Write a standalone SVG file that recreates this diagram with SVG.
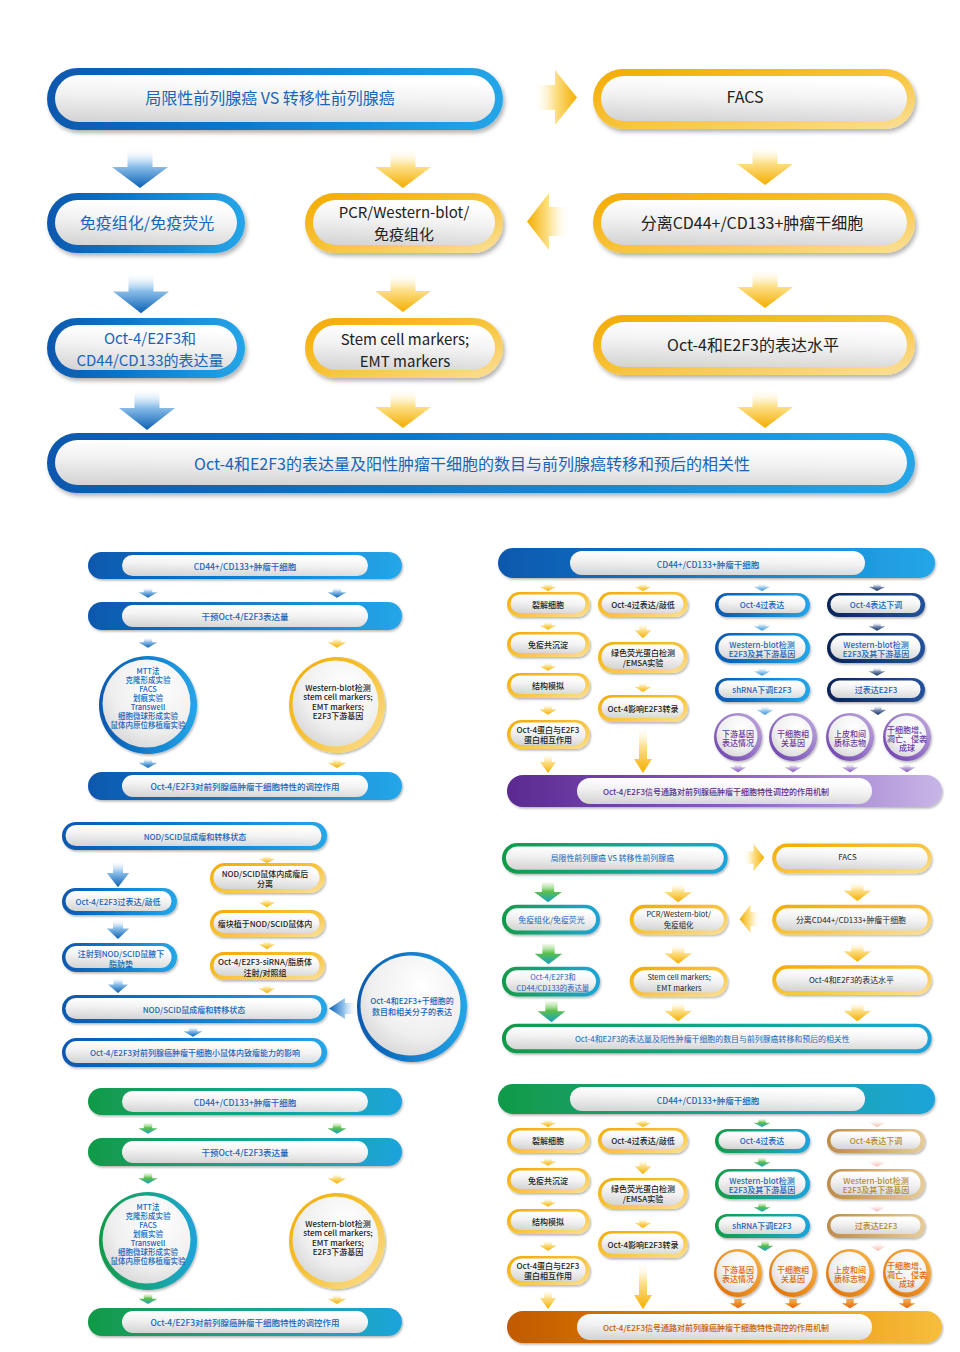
<svg xmlns="http://www.w3.org/2000/svg" width="960" height="1352" viewBox="0 0 960 1352">
<style>
text{font-family:"Noto Sans CJK SC","Noto Sans",sans-serif;text-anchor:middle;dominant-baseline:central}
.f16{font-size:16px}.f15{font-size:15px}.f85{font-size:8.5px;font-weight:500}.f8{font-size:8px;font-weight:500}.f75{font-size:7.5px;font-weight:500}
.tb{fill:#1766bb}.td{fill:#222}.tp{fill:#6b3aa0}.tq{fill:#5a2d88}.to{fill:#e06a08}.tn{fill:#b58a2c}.tr{fill:#c65f00}
.in{fill:url(#gIn)}.inc{fill:url(#gInC)}
.rb{fill:url(#gBlue)}.ry{fill:url(#gYel)}.rg{fill:url(#gGreen)}.rn{fill:url(#gNavy)}.rp{fill:url(#gPur)}.rq{fill:url(#gPurBar)}.ro{fill:url(#gOr)}.rr{fill:url(#gOrBar)}.rt{fill:url(#gTan)}
.sh{filter:url(#sh)}.s2{filter:url(#sh2)}
</style>
<defs>
<filter id="sh" x="-10%" y="-20%" width="120%" height="160%"><feDropShadow dx="2" dy="3" stdDeviation="2" flood-color="#000" flood-opacity="0.3"/></filter>
<filter id="sh2" x="-10%" y="-20%" width="120%" height="160%"><feDropShadow dx="1" dy="1.5" stdDeviation="1" flood-color="#000" flood-opacity="0.3"/></filter>
<linearGradient id="gBlue" x1="0" y1="0" x2="1" y2="0"><stop offset="0" stop-color="#0a58ae"/><stop offset="0.55" stop-color="#1382d0"/><stop offset="1" stop-color="#25a6e8"/></linearGradient>
<linearGradient id="gYel" x1="0" y1="0" x2="1" y2="1"><stop offset="0" stop-color="#f3aa00"/><stop offset="0.5" stop-color="#f7c33a"/><stop offset="1" stop-color="#fbe09a"/></linearGradient>
<linearGradient id="gGreen" x1="0" y1="0" x2="1" y2="0"><stop offset="0" stop-color="#119a48"/><stop offset="0.5" stop-color="#17a58a"/><stop offset="1" stop-color="#1ea4dc"/></linearGradient>
<linearGradient id="gNavy" x1="0" y1="0" x2="1" y2="0"><stop offset="0" stop-color="#0a2458"/><stop offset="1" stop-color="#24529a"/></linearGradient>
<linearGradient id="gPur" x1="0" y1="1" x2="1" y2="0"><stop offset="0" stop-color="#6a3aac"/><stop offset="1" stop-color="#c2aee0"/></linearGradient>
<linearGradient id="gPurBar" x1="0" y1="0" x2="1" y2="0"><stop offset="0" stop-color="#5a2a90"/><stop offset="0.5" stop-color="#8a5cc4"/><stop offset="1" stop-color="#c8b6e6"/></linearGradient>
<linearGradient id="gOr" x1="0" y1="1" x2="1" y2="0"><stop offset="0" stop-color="#e06c00"/><stop offset="1" stop-color="#f7b84a"/></linearGradient>
<linearGradient id="gOrBar" x1="0" y1="0" x2="1" y2="0"><stop offset="0" stop-color="#c05a00"/><stop offset="0.5" stop-color="#e98a00"/><stop offset="1" stop-color="#f6be3c"/></linearGradient>
<linearGradient id="gTan" x1="0" y1="0" x2="1" y2="0"><stop offset="0" stop-color="#bd8c4a"/><stop offset="1" stop-color="#e6cc9a"/></linearGradient>
<linearGradient id="gIn" x1="0" y1="1" x2="0.2" y2="0"><stop offset="0" stop-color="#d2d2d2"/><stop offset="0.6" stop-color="#f2f2f2"/><stop offset="1" stop-color="#ffffff"/></linearGradient>
<radialGradient id="gInC" cx="0.62" cy="0.3" r="0.85"><stop offset="0" stop-color="#ffffff"/><stop offset="0.6" stop-color="#efefef"/><stop offset="1" stop-color="#cfcfcf"/></radialGradient>
<linearGradient id="aBlue" x1="0" y1="0" x2="0" y2="1"><stop offset="0" stop-color="#ffffff" stop-opacity="0"/><stop offset="0.45" stop-color="#8ec0ea"/><stop offset="1" stop-color="#0a60b5"/></linearGradient>
<linearGradient id="aYel" x1="0" y1="0" x2="0" y2="1"><stop offset="0" stop-color="#ffffff" stop-opacity="0"/><stop offset="0.45" stop-color="#fde08a"/><stop offset="1" stop-color="#f4ae00"/></linearGradient>
<linearGradient id="aGreen" x1="0" y1="0" x2="0" y2="1"><stop offset="0" stop-color="#c8eab0" stop-opacity="0.3"/><stop offset="0.45" stop-color="#5cc04a"/><stop offset="1" stop-color="#17a0c4"/></linearGradient>
<linearGradient id="aLBlue" x1="0" y1="0" x2="0" y2="1"><stop offset="0" stop-color="#ffffff" stop-opacity="0"/><stop offset="0.5" stop-color="#a8d2f0"/><stop offset="1" stop-color="#3a92d8"/></linearGradient>
<linearGradient id="aNavy" x1="0" y1="0" x2="0" y2="1"><stop offset="0" stop-color="#ffffff" stop-opacity="0"/><stop offset="0.5" stop-color="#7c8fb5"/><stop offset="1" stop-color="#142f60"/></linearGradient>
<linearGradient id="aPur" x1="0" y1="0" x2="0" y2="1"><stop offset="0" stop-color="#ffffff" stop-opacity="0"/><stop offset="0.5" stop-color="#c4b0e0"/><stop offset="1" stop-color="#8056b8"/></linearGradient>
<linearGradient id="aPink" x1="0" y1="0" x2="0" y2="1"><stop offset="0" stop-color="#ffffff" stop-opacity="0"/><stop offset="1" stop-color="#f3b3a0"/></linearGradient>
<linearGradient id="aOr" x1="0" y1="0" x2="0" y2="1"><stop offset="0" stop-color="#f6b25a"/><stop offset="1" stop-color="#e06800"/></linearGradient>
<linearGradient id="aYelR" x1="0" y1="0" x2="1" y2="0"><stop offset="0" stop-color="#ffffff" stop-opacity="0"/><stop offset="0.5" stop-color="#fde08a"/><stop offset="1" stop-color="#f4ae00"/></linearGradient>
<linearGradient id="aYelL" x1="1" y1="0" x2="0" y2="0"><stop offset="0" stop-color="#ffffff" stop-opacity="0"/><stop offset="0.5" stop-color="#fde08a"/><stop offset="1" stop-color="#f4ae00"/></linearGradient>
<linearGradient id="aBlueL" x1="1" y1="0" x2="0" y2="0"><stop offset="0" stop-color="#ffffff" stop-opacity="0"/><stop offset="0.5" stop-color="#8ec0ea"/><stop offset="1" stop-color="#0a60b5"/></linearGradient>
<path id="arrD" d="M-12.5,0H12.5V19H28L0,40L-28,19H-12.5Z"/>
</defs>
<rect width="960" height="1352" fill="#ffffff"/>

<!-- ===== TOP SECTION ===== -->
<g id="top-section">
<g id="connectors-top">
<use href="#arrD" transform="translate(140,148)" fill="url(#aBlue)"/>
<use href="#arrD" transform="translate(141,272) scale(1,1.03)" fill="url(#aBlue)"/>
<use href="#arrD" transform="translate(147,388) scale(1,1.05)" fill="url(#aBlue)"/>
<use href="#arrD" transform="translate(403,148)" fill="url(#aYel)"/>
<use href="#arrD" transform="translate(403,272)" fill="url(#aYel)"/>
<use href="#arrD" transform="translate(403,388)" fill="url(#aYel)"/>
<use href="#arrD" transform="translate(765,145)" fill="url(#aYel)"/>
<use href="#arrD" transform="translate(765,268)" fill="url(#aYel)"/>
<use href="#arrD" transform="translate(765,388)" fill="url(#aYel)"/>
<path d="M533,85H555V70L577,97.5L555,125V110H533Z" fill="url(#aYelR)"/>
<path d="M570,207H549V193L527,221.5L549,250V236H570Z" fill="url(#aYelL)"/>
</g>
<g id="t1"><rect class="rb sh" x="47" y="68" width="456" height="62" rx="31"/><rect class="in" x="55" y="75" width="440" height="47" rx="23.5"/><text class="tb f16" x="270" y="97">局限性前列腺癌 VS 转移性前列腺癌</text></g>
<g id="t2"><rect class="ry sh" x="593" y="69" width="322" height="60" rx="30"/><rect class="in" x="601" y="76" width="306" height="45" rx="22.5"/><text class="td f16" x="745" y="96">FACS</text></g>
<g id="t3"><rect class="rb sh" x="47" y="193" width="198" height="60" rx="30"/><rect class="in" x="55" y="200" width="182" height="45" rx="22.5"/><text class="tb f16" x="147" y="222">免疫组化/免疫荧光</text></g>
<g id="t4"><rect class="ry sh" x="305" y="193" width="198" height="60" rx="30"/><rect class="in" x="313" y="200" width="182" height="45" rx="22.5"/><text class="td f15" x="404" y="211.5">PCR/Western-blot/</text><text class="td f15" x="404" y="233">免疫组化</text></g>
<g id="t5"><rect class="ry sh" x="593" y="193" width="322" height="60" rx="30"/><rect class="in" x="601" y="200" width="306" height="45" rx="22.5"/><text class="td f16" x="752" y="222">分离CD44+/CD133+肿瘤干细胞</text></g>
<g id="t6"><rect class="rb sh" x="47" y="318" width="198" height="60" rx="30"/><rect class="in" x="55" y="325" width="182" height="45" rx="22.5"/><text class="tb f15" x="150" y="337.5">Oct-4/E2F3和</text><text class="tb f15" x="150" y="359">CD44/CD133的表达量</text></g>
<g id="t7"><rect class="ry sh" x="305" y="318" width="198" height="60" rx="30"/><rect class="in" x="313" y="325" width="182" height="45" rx="22.5"/><text class="td f15" x="405" y="338.5">Stem cell markers;</text><text class="td f15" x="405" y="360">EMT markers</text></g>
<g id="t8"><rect class="ry sh" x="593" y="315" width="322" height="60" rx="30"/><rect class="in" x="601" y="322" width="306" height="45" rx="22.5"/><text class="td f16" x="753" y="344">Oct-4和E2F3的表达水平</text></g>
<g id="t9"><rect class="rb sh" x="47" y="433" width="868" height="60" rx="30"/><rect class="in" x="55" y="440" width="852" height="45" rx="22.5"/><text class="tb f16" x="472" y="463">Oct-4和E2F3的表达量及阳性肿瘤干细胞的数目与前列腺癌转移和预后的相关性</text></g>
</g>

<!-- ===== PANEL A ===== -->
<g id="panel-a">
<g id="connectors-a">
<use href="#arrD" transform="translate(148,587) scale(0.34,0.27)" fill="url(#aBlue)"/>
<use href="#arrD" transform="translate(337,587) scale(0.34,0.27)" fill="url(#aBlue)"/>
<use href="#arrD" transform="translate(148,637) scale(0.34,0.27)" fill="url(#aBlue)"/>
<use href="#arrD" transform="translate(337,637) scale(0.34,0.27)" fill="url(#aYel)"/>
<use href="#arrD" transform="translate(148,758) scale(0.34,0.25)" fill="url(#aBlue)"/>
<use href="#arrD" transform="translate(337,758) scale(0.34,0.25)" fill="url(#aYel)"/>
</g>
<g id="a1"><rect class="rb s2" x="88" y="552" width="314" height="27" rx="13.5"/><rect class="in" x="122" y="555" width="246" height="21" rx="10.5"/><text class="tb f85" x="245" y="566">CD44+/CD133+肿瘤干细胞</text></g>
<g id="a2"><rect class="rb s2" x="88" y="602" width="314" height="28" rx="14"/><rect class="in" x="122" y="605" width="246" height="22" rx="11"/><text class="tb f85" x="245" y="616">干预Oct-4/E2F3表达量</text></g>
<g id="a3"><circle class="rb s2" cx="148" cy="705" r="49"/><circle class="inc" cx="146.5" cy="703.5" r="44"/><text class="tb f75" x="148" y="670">MTT法</text><text class="tb f75" x="148" y="679">克隆形成实验</text><text class="tb f75" x="148" y="688.5">FACS</text><text class="tb f75" x="148" y="697.5">划痕实验</text><text class="tb f75" x="148" y="706.5">Transwell</text><text class="tb f75" x="148" y="715.5">细胞微球形成实验</text><text class="tb f75" x="148" y="724.5">鼠体内原位移植瘤实验</text></g>
<g id="a4"><circle class="ry s2" cx="337" cy="705" r="48"/><circle class="inc" cx="335.5" cy="703.5" r="43"/><text class="td f8" x="338" y="687">Western-blot检测</text><text class="td f8" x="338" y="696.5">stem cell markers;</text><text class="td f8" x="338" y="706">EMT markers;</text><text class="td f8" x="338" y="715">E2F3下游基因</text></g>
<g id="a5"><rect class="rb s2" x="88" y="772" width="314" height="28" rx="14"/><rect class="in" x="122" y="775" width="246" height="22" rx="11"/><text class="tb f85" x="245" y="786">Oct-4/E2F3对前列腺癌肿瘤干细胞特性的调控作用</text></g>
</g>

<!-- ===== PANEL B ===== -->
<g id="panel-b">
<g id="connectors-b">
<use href="#arrD" transform="translate(548,583) scale(0.3,0.2)" fill="url(#aYel)"/>
<use href="#arrD" transform="translate(548,621) scale(0.3,0.22)" fill="url(#aYel)"/>
<use href="#arrD" transform="translate(548,662) scale(0.3,0.22)" fill="url(#aYel)"/>
<use href="#arrD" transform="translate(548,704) scale(0.32,0.27)" fill="url(#aYel)"/>
<path d="M544,753H552V762H556L548,773L540,762H544Z" fill="url(#aYel)"/>
<use href="#arrD" transform="translate(643,583) scale(0.3,0.2)" fill="url(#aYel)"/>
<use href="#arrD" transform="translate(643,623) scale(0.3,0.38)" fill="url(#aYel)"/>
<use href="#arrD" transform="translate(643,682) scale(0.3,0.25)" fill="url(#aYel)"/>
<path d="M639,725H647V759H652L643,773L634,759H639Z" fill="url(#aYel)"/>
<use href="#arrD" transform="translate(762,583) scale(0.3,0.2)" fill="url(#aLBlue)"/>
<use href="#arrD" transform="translate(762,622) scale(0.3,0.22)" fill="url(#aLBlue)"/>
<use href="#arrD" transform="translate(762,667) scale(0.3,0.22)" fill="url(#aLBlue)"/>
<use href="#arrD" transform="translate(765,705) scale(0.3,0.25)" fill="url(#aLBlue)"/>
<use href="#arrD" transform="translate(877,583) scale(0.3,0.2)" fill="url(#aNavy)"/>
<use href="#arrD" transform="translate(877,622) scale(0.3,0.22)" fill="url(#aNavy)"/>
<use href="#arrD" transform="translate(877,667) scale(0.3,0.22)" fill="url(#aNavy)"/>
<use href="#arrD" transform="translate(878,705) scale(0.3,0.25)" fill="url(#aNavy)"/>
<use href="#arrD" transform="translate(738,763) scale(0.3,0.23)" fill="url(#aPur)"/>
<use href="#arrD" transform="translate(793,763) scale(0.3,0.23)" fill="url(#aPur)"/>
<use href="#arrD" transform="translate(850,763) scale(0.3,0.23)" fill="url(#aPur)"/>
<use href="#arrD" transform="translate(907,763) scale(0.3,0.23)" fill="url(#aPur)"/>
</g>
<g id="b1"><rect class="rb s2" x="498" y="548" width="437" height="30" rx="15"/><rect class="in" x="570" y="551" width="295" height="24" rx="12"/><text class="tb f85" x="708" y="563.5">CD44+/CD133+肿瘤干细胞</text></g>
<g id="b2"><rect class="ry s2" x="507" y="592" width="83" height="25" rx="12.5"/><rect class="in" x="510.5" y="594.5" width="75" height="18.5" rx="9.25"/><text class="td f8" x="548" y="604.5">裂解细胞</text></g>
<g id="b3"><rect class="ry s2" x="507" y="632" width="83" height="25" rx="12.5"/><rect class="in" x="510.5" y="634.5" width="75" height="18.5" rx="9.25"/><text class="td f8" x="548" y="644.5">免疫共沉淀</text></g>
<g id="b4"><rect class="ry s2" x="507" y="673" width="83" height="25" rx="12.5"/><rect class="in" x="510.5" y="675.5" width="75" height="18.5" rx="9.25"/><text class="td f8" x="548" y="685.5">结构模拟</text></g>
<g id="b5"><rect class="ry s2" x="507" y="720" width="83" height="29" rx="14.5"/><rect class="in" x="510.5" y="722.5" width="75" height="22.5" rx="11.25"/><text class="td f8" x="548" y="729">Oct-4蛋白与E2F3</text><text class="td f8" x="548" y="739.5">蛋白相互作用</text></g>
<g id="b6"><rect class="ry s2" x="598" y="592" width="90" height="25" rx="12.5"/><rect class="in" x="601.5" y="594.5" width="82" height="18.5" rx="9.25"/><text class="td f8" x="643" y="604.5">Oct-4过表达/敲低</text></g>
<g id="b7"><rect class="ry s2" x="598" y="642" width="90" height="31" rx="15.5"/><rect class="in" x="601.5" y="644.5" width="82" height="24.5" rx="12.25"/><text class="td f8" x="643" y="652">绿色荧光蛋白检测</text><text class="td f8" x="643" y="662">/EMSA实验</text></g>
<g id="b8"><rect class="ry s2" x="598" y="695" width="90" height="27" rx="13.5"/><rect class="in" x="601.5" y="697.5" width="82" height="20.5" rx="10.25"/><text class="td f8" x="643" y="708.5">Oct-4影响E2F3转录</text></g>
<g id="b9"><rect class="rb s2" x="715" y="593" width="95" height="24" rx="12"/><rect class="in" x="718.5" y="595.5" width="87" height="17.5" rx="8.75"/><text class="tb f8" x="762" y="604.5">Oct-4过表达</text></g>
<g id="b10"><rect class="rb s2" x="715" y="633" width="95" height="30" rx="15"/><rect class="in" x="718.5" y="635.5" width="87" height="23.5" rx="11.75"/><text class="tb f8" x="762" y="644">Western-blot检测</text><text class="tb f8" x="762" y="653.5">E2F3及其下游基因</text></g>
<g id="b11"><rect class="rb s2" x="715" y="678" width="95" height="24" rx="12"/><rect class="in" x="718.5" y="680.5" width="87" height="17.5" rx="8.75"/><text class="tb f8" x="762" y="689.5">shRNA下调E2F3</text></g>
<g id="b12"><rect class="rn s2" x="827" y="593" width="98" height="24" rx="12"/><rect class="in" x="830.5" y="595.5" width="90" height="17.5" rx="8.75"/><text class="tb f8" x="876" y="604.5">Oct-4表达下调</text></g>
<g id="b13"><rect class="rn s2" x="827" y="633" width="98" height="30" rx="15"/><rect class="in" x="830.5" y="635.5" width="90" height="23.5" rx="11.75"/><text class="tb f8" x="876" y="644">Western-blot检测</text><text class="tb f8" x="876" y="653.5">E2F3及其下游基因</text></g>
<g id="b14"><rect class="rn s2" x="827" y="678" width="98" height="24" rx="12"/><rect class="in" x="830.5" y="680.5" width="90" height="17.5" rx="8.75"/><text class="tb f8" x="876" y="689.5">过表达E2F3</text></g>
<g id="b15"><circle class="rp s2" cx="738" cy="737" r="24"/><circle class="inc" cx="737" cy="736" r="20.5"/><text class="tp f8" x="738" y="733">下游基因</text><text class="tp f8" x="738" y="742.5">表达情况</text></g>
<g id="b16"><circle class="rp s2" cx="793" cy="737" r="24"/><circle class="inc" cx="792" cy="736" r="20.5"/><text class="tp f8" x="793" y="733">干细胞相</text><text class="tp f8" x="793" y="742.5">关基因</text></g>
<g id="b17"><circle class="rp s2" cx="850" cy="737" r="24"/><circle class="inc" cx="849" cy="736" r="20.5"/><text class="tp f8" x="850" y="733">上皮和间</text><text class="tp f8" x="850" y="742.5">质标志物</text></g>
<g id="b18"><circle class="rp s2" cx="907" cy="737" r="24"/><circle class="inc" cx="906" cy="736" r="20.5"/><text class="tp f8" x="907" y="729">干细胞增、</text><text class="tp f8" x="907" y="738">凋亡、侵袭</text><text class="tp f8" x="907" y="747">成球</text></g>
<g id="b19"><rect class="rq s2" x="507" y="775" width="435" height="32" rx="16"/><rect class="in" x="577" y="778" width="295" height="26" rx="13"/><text class="tq f8" x="716" y="791.5">Oct-4/E2F3信号通路对前列腺癌肿瘤干细胞特性调控的作用机制</text></g>
</g>

<!-- ===== PANEL C ===== -->
<g id="panel-c">
<g id="connectors-c">
<use href="#arrD" transform="translate(118,860) scale(0.4,0.68)" fill="url(#aBlue)"/>
<use href="#arrD" transform="translate(118,919) scale(0.4,0.5)" fill="url(#aBlue)"/>
<use href="#arrD" transform="translate(118,977) scale(0.36,0.4)" fill="url(#aBlue)"/>
<use href="#arrD" transform="translate(193,1026) scale(0.34,0.27)" fill="url(#aBlue)"/>
<use href="#arrD" transform="translate(267,855) scale(0.3,0.2)" fill="url(#aYel)"/>
<use href="#arrD" transform="translate(267,898) scale(0.3,0.23)" fill="url(#aYel)"/>
<use href="#arrD" transform="translate(267,940) scale(0.3,0.23)" fill="url(#aYel)"/>
<use href="#arrD" transform="translate(267,984) scale(0.3,0.23)" fill="url(#aYel)"/>
<path d="M358,1003H345V998L329,1008.5L345,1019V1014H358Z" fill="url(#aBlueL)"/>
</g>
<g id="c1"><rect class="rb s2" x="62" y="822" width="265" height="28" rx="14"/><rect class="in" x="65.5" y="825" width="256" height="21" rx="10.5"/><text class="tb f8" x="195" y="836">NOD/SCID鼠成瘤和转移状态</text></g>
<g id="c2"><rect class="rb s2" x="62" y="888" width="115" height="27" rx="13.5"/><rect class="in" x="65.5" y="891" width="106" height="20" rx="10"/><text class="tb f8" x="118" y="901.5">Oct-4/E2F3过表达/敲低</text></g>
<g id="c3"><rect class="rb s2" x="62" y="943" width="115" height="29" rx="14.5"/><rect class="in" x="65.5" y="946" width="106" height="22" rx="11"/><text class="tb f8" x="121" y="953">注射到NOD/SCID鼠腋下</text><text class="tb f8" x="121" y="963">脂肪垫</text></g>
<g id="c4"><rect class="rb s2" x="62" y="995" width="265" height="28" rx="14"/><rect class="in" x="65.5" y="998" width="256" height="21" rx="10.5"/><text class="tb f8" x="194" y="1009">NOD/SCID鼠成瘤和转移状态</text></g>
<g id="c5"><rect class="rb s2" x="62" y="1038" width="265" height="29" rx="14.5"/><rect class="in" x="65.5" y="1041" width="256" height="22" rx="11"/><text class="tb f8" x="195" y="1052">Oct-4/E2F3对前列腺癌肿瘤干细胞小鼠体内致瘤能力的影响</text></g>
<g id="c6"><rect class="ry s2" x="210" y="863" width="115" height="30" rx="15"/><rect class="in" x="213.5" y="866" width="106" height="23" rx="11.5"/><text class="td f8" x="265" y="873">NOD/SCID鼠体内成瘤后</text><text class="td f8" x="265" y="883.5">分离</text></g>
<g id="c7"><rect class="ry s2" x="210" y="910" width="115" height="27" rx="13.5"/><rect class="in" x="213.5" y="913" width="106" height="20" rx="10"/><text class="td f8" x="265" y="923.5">瘤块植于NOD/SCID鼠体内</text></g>
<g id="c8"><rect class="ry s2" x="210" y="952" width="115" height="28" rx="14"/><rect class="in" x="213.5" y="955" width="106" height="21" rx="10.5"/><text class="td f8" x="265" y="961.5">Oct-4/E2F3-siRNA/脂质体</text><text class="td f8" x="265" y="972">注射/对照组</text></g>
<g id="c9"><circle class="rb s2" cx="412" cy="1007" r="55"/><circle class="inc" cx="410.5" cy="1005.5" r="50"/><text class="tb f8" x="412" y="1000">Oct-4和E2F3+干细胞的</text><text class="tb f8" x="412" y="1011">数目和相关分子的表达</text></g>
</g>

<!-- ===== PANEL D (green variant of top section) ===== -->
<g id="panel-d" transform="translate(478.7,809.3) scale(0.495)">
<g id="connectors-d">
<use href="#arrD" transform="translate(140,148)" fill="url(#aGreen)"/>
<use href="#arrD" transform="translate(141,272) scale(1,1.03)" fill="url(#aGreen)"/>
<use href="#arrD" transform="translate(147,388) scale(1,1.05)" fill="url(#aGreen)"/>
<use href="#arrD" transform="translate(403,148)" fill="url(#aYel)"/>
<use href="#arrD" transform="translate(403,272)" fill="url(#aYel)"/>
<use href="#arrD" transform="translate(403,388)" fill="url(#aYel)"/>
<use href="#arrD" transform="translate(765,145)" fill="url(#aYel)"/>
<use href="#arrD" transform="translate(765,268)" fill="url(#aYel)"/>
<use href="#arrD" transform="translate(765,388)" fill="url(#aYel)"/>
<path d="M533,85H555V70L577,97.5L555,125V110H533Z" fill="url(#aYelR)"/>
<path d="M570,207H549V193L527,221.5L549,250V236H570Z" fill="url(#aYelL)"/>
</g>
<g id="d1"><rect class="rg sh" x="47" y="68" width="456" height="62" rx="31"/><rect class="in" x="55" y="75" width="440" height="47" rx="23.5"/><text class="tb f16" x="270" y="97">局限性前列腺癌 VS 转移性前列腺癌</text></g>
<g id="d2"><rect class="ry sh" x="593" y="69" width="322" height="60" rx="30"/><rect class="in" x="601" y="76" width="306" height="45" rx="22.5"/><text class="td f16" x="745" y="96">FACS</text></g>
<g id="d3"><rect class="rg sh" x="47" y="193" width="198" height="60" rx="30"/><rect class="in" x="55" y="200" width="182" height="45" rx="22.5"/><text class="tb f16" x="147" y="222">免疫组化/免疫荧光</text></g>
<g id="d4"><rect class="ry sh" x="305" y="193" width="198" height="60" rx="30"/><rect class="in" x="313" y="200" width="182" height="45" rx="22.5"/><text class="td f15" x="404" y="211.5">PCR/Western-blot/</text><text class="td f15" x="404" y="233">免疫组化</text></g>
<g id="d5"><rect class="ry sh" x="593" y="193" width="322" height="60" rx="30"/><rect class="in" x="601" y="200" width="306" height="45" rx="22.5"/><text class="td f16" x="752" y="222">分离CD44+/CD133+肿瘤干细胞</text></g>
<g id="d6"><rect class="rg sh" x="47" y="318" width="198" height="60" rx="30"/><rect class="in" x="55" y="325" width="182" height="45" rx="22.5"/><text class="tb f15" x="150" y="337.5">Oct-4/E2F3和</text><text class="tb f15" x="150" y="359">CD44/CD133的表达量</text></g>
<g id="d7"><rect class="ry sh" x="305" y="318" width="198" height="60" rx="30"/><rect class="in" x="313" y="325" width="182" height="45" rx="22.5"/><text class="td f15" x="405" y="338.5">Stem cell markers;</text><text class="td f15" x="405" y="360">EMT markers</text></g>
<g id="d8"><rect class="ry sh" x="593" y="315" width="322" height="60" rx="30"/><rect class="in" x="601" y="322" width="306" height="45" rx="22.5"/><text class="td f16" x="753" y="344">Oct-4和E2F3的表达水平</text></g>
<g id="d9"><rect class="rg sh" x="47" y="433" width="868" height="60" rx="30"/><rect class="in" x="55" y="440" width="852" height="45" rx="22.5"/><text class="tb f16" x="472" y="463">Oct-4和E2F3的表达量及阳性肿瘤干细胞的数目与前列腺癌转移和预后的相关性</text></g>
</g>

<!-- ===== PANEL E (green variant of panel A) ===== -->
<g id="panel-e" transform="translate(0,536)">
<g id="connectors-e">
<use href="#arrD" transform="translate(148,587) scale(0.34,0.27)" fill="url(#aGreen)"/>
<use href="#arrD" transform="translate(337,587) scale(0.34,0.27)" fill="url(#aGreen)"/>
<use href="#arrD" transform="translate(148,637) scale(0.34,0.27)" fill="url(#aGreen)"/>
<use href="#arrD" transform="translate(337,637) scale(0.34,0.27)" fill="url(#aYel)"/>
<use href="#arrD" transform="translate(148,758) scale(0.34,0.25)" fill="url(#aGreen)"/>
<use href="#arrD" transform="translate(337,758) scale(0.34,0.25)" fill="url(#aYel)"/>
</g>
<g id="e1"><rect class="rg s2" x="88" y="552" width="314" height="27" rx="13.5"/><rect class="in" x="122" y="555" width="246" height="21" rx="10.5"/><text class="tb f85" x="245" y="566">CD44+/CD133+肿瘤干细胞</text></g>
<g id="e2"><rect class="rg s2" x="88" y="602" width="314" height="28" rx="14"/><rect class="in" x="122" y="605" width="246" height="22" rx="11"/><text class="tb f85" x="245" y="616">干预Oct-4/E2F3表达量</text></g>
<g id="e3"><circle class="rg s2" cx="148" cy="705" r="49"/><circle class="inc" cx="146.5" cy="703.5" r="44"/><text class="tb f75" x="148" y="670">MTT法</text><text class="tb f75" x="148" y="679">克隆形成实验</text><text class="tb f75" x="148" y="688.5">FACS</text><text class="tb f75" x="148" y="697.5">划痕实验</text><text class="tb f75" x="148" y="706.5">Transwell</text><text class="tb f75" x="148" y="715.5">细胞微球形成实验</text><text class="tb f75" x="148" y="724.5">鼠体内原位移植瘤实验</text></g>
<g id="e4"><circle class="ry s2" cx="337" cy="705" r="48"/><circle class="inc" cx="335.5" cy="703.5" r="43"/><text class="td f8" x="338" y="687">Western-blot检测</text><text class="td f8" x="338" y="696.5">stem cell markers;</text><text class="td f8" x="338" y="706">EMT markers;</text><text class="td f8" x="338" y="715">E2F3下游基因</text></g>
<g id="e5"><rect class="rg s2" x="88" y="772" width="314" height="28" rx="14"/><rect class="in" x="122" y="775" width="246" height="22" rx="11"/><text class="tb f85" x="245" y="786">Oct-4/E2F3对前列腺癌肿瘤干细胞特性的调控作用</text></g>
</g>

<!-- ===== PANEL F (green/orange variant of panel B) ===== -->
<g id="panel-f" transform="translate(0,536)">
<g id="connectors-f">
<use href="#arrD" transform="translate(548,583) scale(0.3,0.2)" fill="url(#aYel)"/>
<use href="#arrD" transform="translate(548,621) scale(0.3,0.22)" fill="url(#aYel)"/>
<use href="#arrD" transform="translate(548,662) scale(0.3,0.22)" fill="url(#aYel)"/>
<use href="#arrD" transform="translate(548,704) scale(0.32,0.27)" fill="url(#aYel)"/>
<path d="M544,753H552V762H556L548,773L540,762H544Z" fill="url(#aYel)"/>
<use href="#arrD" transform="translate(643,583) scale(0.3,0.2)" fill="url(#aYel)"/>
<use href="#arrD" transform="translate(643,623) scale(0.3,0.38)" fill="url(#aYel)"/>
<use href="#arrD" transform="translate(643,682) scale(0.3,0.25)" fill="url(#aYel)"/>
<path d="M639,725H647V759H652L643,773L634,759H639Z" fill="url(#aYel)"/>
<use href="#arrD" transform="translate(762,583) scale(0.3,0.2)" fill="url(#aGreen)"/>
<use href="#arrD" transform="translate(762,622) scale(0.3,0.22)" fill="url(#aGreen)"/>
<use href="#arrD" transform="translate(762,667) scale(0.3,0.22)" fill="url(#aGreen)"/>
<use href="#arrD" transform="translate(765,705) scale(0.3,0.25)" fill="url(#aGreen)"/>
<use href="#arrD" transform="translate(877,583) scale(0.3,0.2)" fill="url(#aPink)"/>
<use href="#arrD" transform="translate(877,622) scale(0.3,0.22)" fill="url(#aPink)"/>
<use href="#arrD" transform="translate(877,667) scale(0.3,0.22)" fill="url(#aPink)"/>
<use href="#arrD" transform="translate(878,705) scale(0.3,0.25)" fill="url(#aPink)"/>
<use href="#arrD" transform="translate(738,763) scale(0.3,0.23)" fill="url(#aOr)"/>
<use href="#arrD" transform="translate(793,763) scale(0.3,0.23)" fill="url(#aOr)"/>
<use href="#arrD" transform="translate(850,763) scale(0.3,0.23)" fill="url(#aOr)"/>
<use href="#arrD" transform="translate(907,763) scale(0.3,0.23)" fill="url(#aOr)"/>
</g>
<g id="f1"><rect class="rg s2" x="498" y="548" width="437" height="30" rx="15"/><rect class="in" x="570" y="551" width="295" height="24" rx="12"/><text class="tb f85" x="708" y="563.5">CD44+/CD133+肿瘤干细胞</text></g>
<g id="f2"><rect class="ry s2" x="507" y="592" width="83" height="25" rx="12.5"/><rect class="in" x="510.5" y="594.5" width="75" height="18.5" rx="9.25"/><text class="td f8" x="548" y="604.5">裂解细胞</text></g>
<g id="f3"><rect class="ry s2" x="507" y="632" width="83" height="25" rx="12.5"/><rect class="in" x="510.5" y="634.5" width="75" height="18.5" rx="9.25"/><text class="td f8" x="548" y="644.5">免疫共沉淀</text></g>
<g id="f4"><rect class="ry s2" x="507" y="673" width="83" height="25" rx="12.5"/><rect class="in" x="510.5" y="675.5" width="75" height="18.5" rx="9.25"/><text class="td f8" x="548" y="685.5">结构模拟</text></g>
<g id="f5"><rect class="ry s2" x="507" y="720" width="83" height="29" rx="14.5"/><rect class="in" x="510.5" y="722.5" width="75" height="22.5" rx="11.25"/><text class="td f8" x="548" y="729">Oct-4蛋白与E2F3</text><text class="td f8" x="548" y="739.5">蛋白相互作用</text></g>
<g id="f6"><rect class="ry s2" x="598" y="592" width="90" height="25" rx="12.5"/><rect class="in" x="601.5" y="594.5" width="82" height="18.5" rx="9.25"/><text class="td f8" x="643" y="604.5">Oct-4过表达/敲低</text></g>
<g id="f7"><rect class="ry s2" x="598" y="642" width="90" height="31" rx="15.5"/><rect class="in" x="601.5" y="644.5" width="82" height="24.5" rx="12.25"/><text class="td f8" x="643" y="652">绿色荧光蛋白检测</text><text class="td f8" x="643" y="662">/EMSA实验</text></g>
<g id="f8"><rect class="ry s2" x="598" y="695" width="90" height="27" rx="13.5"/><rect class="in" x="601.5" y="697.5" width="82" height="20.5" rx="10.25"/><text class="td f8" x="643" y="708.5">Oct-4影响E2F3转录</text></g>
<g id="f9"><rect class="rg s2" x="715" y="593" width="95" height="24" rx="12"/><rect class="in" x="718.5" y="595.5" width="87" height="17.5" rx="8.75"/><text class="tb f8" x="762" y="604.5">Oct-4过表达</text></g>
<g id="f10"><rect class="rg s2" x="715" y="633" width="95" height="30" rx="15"/><rect class="in" x="718.5" y="635.5" width="87" height="23.5" rx="11.75"/><text class="tb f8" x="762" y="644">Western-blot检测</text><text class="tb f8" x="762" y="653.5">E2F3及其下游基因</text></g>
<g id="f11"><rect class="rg s2" x="715" y="678" width="95" height="24" rx="12"/><rect class="in" x="718.5" y="680.5" width="87" height="17.5" rx="8.75"/><text class="tb f8" x="762" y="689.5">shRNA下调E2F3</text></g>
<g id="f12"><rect class="rt s2" x="827" y="593" width="98" height="24" rx="12"/><rect class="in" x="830.5" y="595.5" width="90" height="17.5" rx="8.75"/><text class="tn f8" x="876" y="604.5">Oct-4表达下调</text></g>
<g id="f13"><rect class="rt s2" x="827" y="633" width="98" height="30" rx="15"/><rect class="in" x="830.5" y="635.5" width="90" height="23.5" rx="11.75"/><text class="tn f8" x="876" y="644">Western-blot检测</text><text class="tn f8" x="876" y="653.5">E2F3及其下游基因</text></g>
<g id="f14"><rect class="rt s2" x="827" y="678" width="98" height="24" rx="12"/><rect class="in" x="830.5" y="680.5" width="90" height="17.5" rx="8.75"/><text class="tn f8" x="876" y="689.5">过表达E2F3</text></g>
<g id="f15"><circle class="ro s2" cx="738" cy="737" r="24"/><circle class="inc" cx="737" cy="736" r="20.5"/><text class="to f8" x="738" y="733">下游基因</text><text class="to f8" x="738" y="742.5">表达情况</text></g>
<g id="f16"><circle class="ro s2" cx="793" cy="737" r="24"/><circle class="inc" cx="792" cy="736" r="20.5"/><text class="to f8" x="793" y="733">干细胞相</text><text class="to f8" x="793" y="742.5">关基因</text></g>
<g id="f17"><circle class="ro s2" cx="850" cy="737" r="24"/><circle class="inc" cx="849" cy="736" r="20.5"/><text class="to f8" x="850" y="733">上皮和间</text><text class="to f8" x="850" y="742.5">质标志物</text></g>
<g id="f18"><circle class="ro s2" cx="907" cy="737" r="24"/><circle class="inc" cx="906" cy="736" r="20.5"/><text class="to f8" x="907" y="729">干细胞增、</text><text class="to f8" x="907" y="738">凋亡、侵袭</text><text class="to f8" x="907" y="747">成球</text></g>
<g id="f19"><rect class="rr s2" x="507" y="775" width="435" height="32" rx="16"/><rect class="in" x="577" y="778" width="295" height="26" rx="13"/><text class="tr f8" x="716" y="791.5">Oct-4/E2F3信号通路对前列腺癌肿瘤干细胞特性调控的作用机制</text></g>
</g>
</svg>
